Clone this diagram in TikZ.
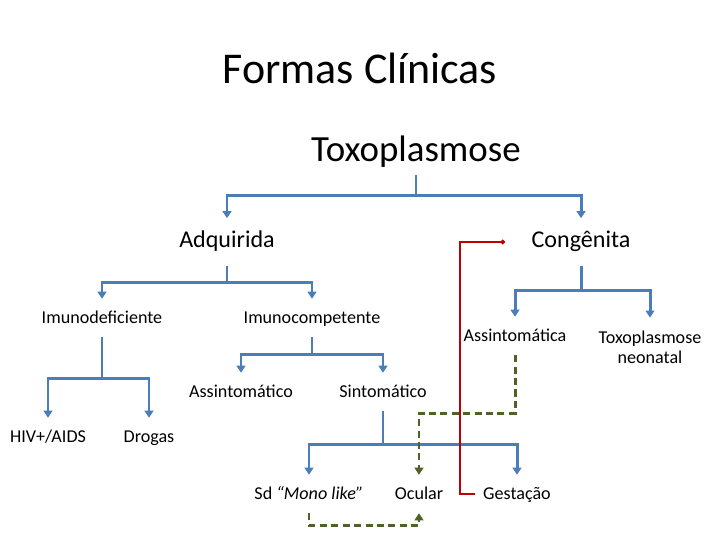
\documentclass[tikz,border=0pt]{standalone}
\usepackage{fontspec}
\setmainfont{Carlito}
\usepackage{xcolor}
\usetikzlibrary{arrows.meta}

\definecolor{treeblue}{RGB}{74,126,187}
\definecolor{linkred}{RGB}{192,0,0}
\definecolor{dashgreen}{RGB}{79,98,40}

\begin{document}
\begin{tikzpicture}[x=0.02cm,y=-0.02cm,
  lbl/.style={inner sep=0pt,minimum height=21.5pt,text height=1.6ex,text depth=.35ex,align=center,font=\fontsize{10.3}{13}\selectfont},
  head/.style={inner sep=0pt,minimum height=26.7pt,text height=1.6ex,text depth=.35ex,font=\fontsize{13.7}{16}\selectfont},
  link/.style={treeblue,line width=1.7pt,-{Triangle[width=5pt,length=4pt]}},
  cross/.style={dashgreen,line width=1.7pt,dash pattern=on 4pt off 2.5pt,-{Triangle[width=5pt,length=4pt]}},
  back/.style={linkred,line width=1.2pt,-{Circle[length=2.5pt]},shorten <=4.5pt,shorten >=15pt}]
\useasboundingbox (0,0) rectangle (720,540);
% titles
\node[font=\fontsize{25}{30}\selectfont] (title) at (360,68) {Formas Clínicas};
\node[inner sep=0pt,minimum height=26pt,font=\fontsize{21}{25}\selectfont] (toxo) at (416,152) {Toxoplasmose};
% first level
\node[head] (adq) at (227,242) {Adquirida};
\node[head] (cong) at (581,242) {Congênita};
% second level
\node[lbl] (imd) at (102,318) {Imunodeficiente};
\node[lbl] (imc) at (312,318) {Imunocompetente};
\node[lbl] (assa) at (515,336) {Assintomática};
\node[inner sep=0pt,minimum height=33pt,align=center,font=\fontsize{10.3}{11.5}\selectfont] (neo) at (650,347) {Toxoplasmose\\neonatal};
% third level
\node[lbl] (asso) at (241,392) {Assintomático};
\node[lbl] (sint) at (383,392) {Sintomático};
\node[lbl] (hiv) at (48,437) {HIV+/AIDS};
\node[lbl] (drog) at (149,437) {Drogas};
% bottom
\node[lbl] (sd) at (309,494) {Sd \textit{“Mono like”}};
\node[lbl] (ocu) at (419,494) {Ocular};
\node[lbl] (gest) at (517,494) {Gestação};

% tree
\draw[link] (toxo.south) -- ++(0,20) -| (adq.north);
\draw[link] (toxo.south) -- ++(0,20) -| (cong.north);
\draw[link] (adq.south) -- ++(0,17) -| (imd.north);
\draw[link] (adq.south) -- ++(0,17) -| (imc.north);
\draw[link] (cong.south) -- ++(0,25) -| (assa.north);
\draw[link] (cong.south) -- ++(0,25) -| (neo.north);
\draw[link] (imd.south) -- ++(0,41) -| (hiv.north);
\draw[link] (imd.south) -- ++(0,41) -| (drog.north);
\draw[link] (imc.south) -- ++(0,17) -| (asso.north);
\draw[link] (imc.south) -- ++(0,17) -| (sint.north);
\draw[link] (sint.south) -- ++(0,33) -| (sd.north);
\draw[link] (sint.south) -- ++(0,33) -| (gest.north);

% cross links
\draw[cross] (assa.south) -- ++(0,58) -| (ocu.north);
\draw[cross] (sd.south) -- ++(0,12) -| (ocu.south);
\draw[back] (gest.west) -- ++(-23,0) |- (cong.west);
\end{tikzpicture}
\end{document}
